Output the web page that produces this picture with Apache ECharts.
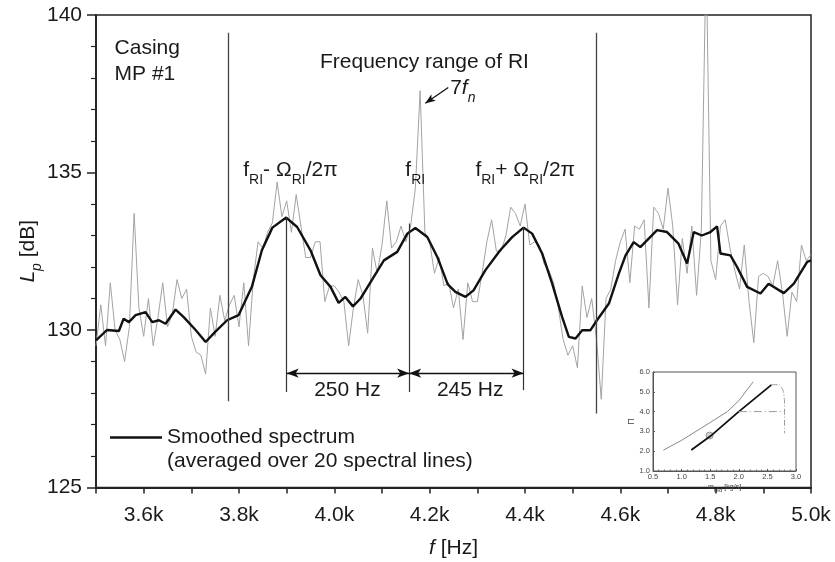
<!DOCTYPE html>
<html><head><meta charset="utf-8">
<script src="https://cdn.jsdelivr.net/npm/echarts@6/dist/echarts.min.js"></script>
<style>html,body{margin:0;padding:0;background:#fff}#c{width:835px;height:562px}</style>
</head><body><div id="c"></div>
<script>
// ---------- data ----------
const rawStart = 3500, rawStep = 10;   // frequency grid of the raw spectrum [Hz]
const rawLevels = [
  129.5,130.8,129.5,131.5,130.0,129.7,129.0,130.1,133.7,130.7,
  129.8,131.0,129.5,130.4,131.5,130.1,130.5,131.6,131.0,131.3,
  129.8,129.3,129.2,128.6,130.7,129.8,131.1,130.3,130.8,131.1,
  130.1,131.5,129.5,131.6,132.8,132.6,133.1,133.4,
  134.7,133.6,134.1,133.1,134.3,133.3,132.3,132.3,132.8,132.8,
  130.9,131.4,131.4,131.2,130.9,129.5,130.7,131.6,131.1,129.9,
  132.6,131.8,132.7,134.1,132.6,132.8,133.3,132.8,133.3,134.5,
  137.6,133.1,132.8,131.8,132.3,131.4,
  131.5,130.7,131.3,129.7,131.5,130.9,130.9,131.8,132.8,133.5,
  132.5,132.5,133.0,133.9,133.7,133.3,134.0,132.7,132.8,132.7,
  132.1,131.9,131.5,130.7,129.7,129.2,129.5,128.8,131.4,130.4,
  131.0,129.7,127.8,131.0,131.3,132.2,132.8,
  133.2,131.5,133.3,133.2,133.5,130.7,133.9,133.7,133.2,134.5,
  133.3,130.8,132.9,131.8,133.3,131.1,133.2,142.0,132.2,131.6,
  133.3,133.5,132.6,131.9,131.3,132.7,130.9,129.6,131.7,131.8,
  131.7,131.4,132.2,131.2,129.8,131.2,130.9,132.7,132.2,132.4
];
const smoothFreq = [3500,3523,3548,3558,3569,3583,3604,3618,3632,3646,3667,3684,3709,3730,3750,3775,3799,3827,3848,3870,
  3899,3922,3950,3971,3992,4009,4023,4039,4055,4076,4104,4132,4153,4170,4195,4216,4238,4254,4275,4292,
  4317,4348,4373,4397,4415,4436,4457,4478,4492,4506,4520,4537,4551,4576,4597,4611,4628,4642,4677,4698,
  4722,4740,4754,4771,4789,4803,4810,4831,4845,4866,4894,4911,4943,4964,4992,5000];
const smoothLevels = [129.67,130.0,129.97,130.36,130.25,130.47,130.57,130.25,130.31,130.2,130.65,130.41,130.0,129.62,129.94,130.31,130.47,131.37,132.53,133.25,
  133.57,133.27,132.53,131.74,131.37,130.86,131.05,130.75,131.0,131.52,132.21,132.48,133.06,133.24,132.95,132.32,131.45,131.21,131.05,131.26,
  131.9,132.53,132.95,133.25,133.06,132.43,131.47,130.41,129.78,129.73,129.99,129.99,130.31,130.84,131.8,132.37,132.79,132.63,133.17,133.11,
  132.74,132.11,133.11,133.0,133.11,133.29,132.43,132.37,132.0,131.37,131.16,131.47,131.17,131.47,132.16,132.21];
const xTickLabels = {3600:'3.6k',3800:'3.8k',4000:'4.0k',4200:'4.2k',4400:'4.4k',4600:'4.6k',4800:'4.8k',5000:'5.0k'};
const yTickLabels = {125:'125',130:'130',135:'135',140:'140'};

// RI range boundaries and peak markers  [f, Ltop, Lbottom]
const rangeLines = [[3777,139.44,127.74],[4549,139.44,127.35]];
const peakLines = [[3900,133.57,128.03],[4157,133.38,128.03],[4397,133.26,128.09]];
const spacingArrows = [[3900,4157,128.63],[4157,4397,128.63]];
const spacingLabels = ['250 Hz','245 Hz'];

// inset (compressor map)
const insetThin = [[0.68,2.05],[1.0,2.55],[1.5,3.45],[1.8,4.0],[2.0,4.55],[2.25,5.5]];
const insetThick = [[1.17,2.06],[1.5,2.75],[2.0,4.0],[2.57,5.35]];
const insetLimit = [[2.57,5.35],[2.68,5.36],[2.75,5.2],[2.79,4.8],[2.8,4.2],[2.8,2.9]];
const insetFlat = [[2.0,4.0],[2.8,4.0]];
const insetPoint = [[1.49,2.79]];

// ---------- chart ----------
const FONT = '"Liberation Sans", Arial, Helvetica, sans-serif';
const INK = '#1a1a1a';
const chart = echarts.init(document.getElementById('c'));

const rawData = rawLevels.map((v, i) => [rawStart + i * rawStep, v]);
const smoothData = smoothFreq.map((f, i) => [f, smoothLevels[i]]);

const markLines = [];
rangeLines.forEach(r => markLines.push([{coord:[r[0], r[1]], lineStyle:{color:'#444', width:1.3, type:'solid'}}, {coord:[r[0], r[2]]}]));
peakLines.forEach(r => markLines.push([{coord:[r[0], r[1]], lineStyle:{color:'#333', width:1.2, type:'solid'}}, {coord:[r[0], r[2]]}]));
spacingArrows.forEach(a => markLines.push([{coord:[a[0], a[2]], symbol:'arrow', symbolSize:[7,12], lineStyle:{color:'#111', width:1.3, type:'solid'}}, {coord:[a[1], a[2]], symbol:'arrow', symbolSize:[7,12]}]));
markLines.push([{coord:[4239,137.7], symbol:'none', lineStyle:{color:'#111', width:1.3, type:'solid'}}, {coord:[4191,137.2], symbol:'arrow', symbolSize:[6,10]}]);

const option = {
  animation: false,
  backgroundColor: '#fff',
  textStyle: {fontFamily: FONT},
  grid: [
    {left:96, top:15, width:715, height:472.5, show:true, borderColor:'#222', borderWidth:1.5, outerBoundsMode:'none'},
    {left:653, top:372, width:143, height:99, show:true, borderColor:'#555', borderWidth:1, backgroundColor:'#fff', outerBoundsMode:'none'}
  ],
  legend: {
    data:['Smoothed spectrum'], left:110, top:427, padding:0, itemWidth:52, itemHeight:2.4, icon:'rect',
    itemStyle:{color:'#111', borderWidth:0},
    textStyle:{fontSize:21, color:INK, fontFamily:FONT}, selectedMode:false
  },
  xAxis: [
    {type:'value', gridIndex:0, min:3500, max:5000, interval:100,
     axisLine:{lineStyle:{color:'#222', width:1.8}},
     axisTick:{length:6, lineStyle:{color:'#222', width:1.5}},
     axisLabel:{fontSize:21, color:INK, margin:17, fontFamily:FONT, formatter: v => xTickLabels[v] || ''},
     splitLine:{show:false},
     name:'{i|f}{m| [Hz]}', nameLocation:'middle', nameGap:50, nameMoveOverlap:false,
     nameTextStyle:{rich:{i:{fontSize:21, fontStyle:'italic', fontFamily:FONT, color:INK}, m:{fontSize:21, fontFamily:FONT, color:INK}}}
    },
    {type:'value', gridIndex:1, min:0.5, max:3.0, interval:0.5,
     axisLine:{lineStyle:{color:'#555', width:1}},
     axisTick:{inside:true, length:2, lineStyle:{color:'#555'}},
     minorTick:{show:true, splitNumber:5, length:1.5, lineStyle:{color:'#777'}},
     axisLabel:{fontSize:7.5, color:'#444', margin:2, formatter: v => v.toFixed(1)},
     splitLine:{show:false},
     name:'{m|m}{s|red}{m| [kg/s]}', nameLocation:'middle', nameGap:13, nameMoveOverlap:false,
     nameTextStyle:{rich:{m:{fontSize:7, color:'#444', verticalAlign:'top'}, s:{fontSize:6, color:'#444', verticalAlign:'top', padding:[3,0,0,0]}}}
    }
  ],
  yAxis: [
    {type:'value', gridIndex:0, min:125, max:140, interval:5,
     axisLine:{lineStyle:{color:'#222', width:1.8}},
     axisTick:{length:9, lineStyle:{color:'#222', width:1.5}},
     minorTick:{show:true, splitNumber:5, length:5, lineStyle:{color:'#222', width:1.2}},
     axisLabel:{fontSize:21, color:INK, margin:14, fontFamily:FONT, formatter: v => yTickLabels[v] || ''},
     splitLine:{show:false},
     name:'{i|L}{s|p}{m| [dB]}', nameLocation:'middle', nameGap:52, nameMoveOverlap:false,
     nameTextStyle:{rich:{
       i:{fontSize:21, fontStyle:'italic', fontFamily:FONT, color:INK, verticalAlign:'top'},
       s:{fontSize:14, fontStyle:'italic', fontFamily:FONT, color:INK, verticalAlign:'top', padding:[12,0,0,0]},
       m:{fontSize:21, fontFamily:FONT, color:INK, verticalAlign:'top'}}}
    },
    {type:'value', gridIndex:1, min:1, max:6, interval:1,
     axisLine:{lineStyle:{color:'#555', width:1}},
     axisTick:{inside:true, length:2, lineStyle:{color:'#555'}},
     axisLabel:{fontSize:7.5, color:'#444', margin:3, formatter: v => v.toFixed(1)},
     splitLine:{show:false},
     name:'Π', nameLocation:'middle', nameGap:17, nameMoveOverlap:false, nameTextStyle:{fontSize:9, color:'#444'}
    }
  ],
  series: [
    {name:'Raw spectrum', type:'line', xAxisIndex:0, yAxisIndex:0, data:rawData, symbol:'none', silent:true,
     lineStyle:{color:'#a3a3a3', width:1}, itemStyle:{color:'#a3a3a3'}, z:2,
     markLine:{silent:true, symbol:['none','none'], label:{show:false}, data:markLines, animation:false}},
    {name:'Smoothed spectrum', type:'line', xAxisIndex:0, yAxisIndex:0, data:smoothData, symbol:'none', silent:true,
     lineStyle:{color:'#111', width:2.4}, itemStyle:{color:'#111'}, z:3},
    {type:'line', xAxisIndex:1, yAxisIndex:1, data:insetThin, symbol:'none', silent:true, lineStyle:{color:'#888', width:1}},
    {type:'line', xAxisIndex:1, yAxisIndex:1, data:insetThick, symbol:'none', silent:true, lineStyle:{color:'#111', width:1.8}},
    {type:'line', xAxisIndex:1, yAxisIndex:1, data:insetLimit, symbol:'none', smooth:0.5, silent:true, lineStyle:{color:'#999', width:1, type:[6,2,1,2]}},
    {type:'line', xAxisIndex:1, yAxisIndex:1, data:insetFlat, symbol:'none', silent:true, lineStyle:{color:'#999', width:1, type:[8,3,1,3]}},
    {type:'scatter', xAxisIndex:1, yAxisIndex:1, data:insetPoint, symbolSize:7, silent:true, itemStyle:{color:'#c8c8c8', borderColor:'#888', borderWidth:1}}
  ]
};
chart.setOption(option);

// ---------- text annotations (anchored in data coordinates) ----------
const P = (f, L) => chart.convertToPixel({gridIndex:0}, [f, L]);
const mainTok = {fontSize:21, fontFamily:FONT, fill:INK, verticalAlign:'top'};
const subTok = {fontSize:14, fontFamily:FONT, fill:INK, verticalAlign:'top', padding:[13,0,0,0]};
const richStyle = {
  m: mainTok, s: subTok,
  i: Object.assign({}, mainTok, {fontStyle:'italic'}),
  is: Object.assign({}, subTok, {fontStyle:'italic'})
};
function richText(f, L, text, align) {
  const p = P(f, L);
  return {type:'text', x:p[0], y:p[1] - 10.5, silent:true, z:50,
    style:{text, rich:richStyle, fill:INK, align:align || 'left', verticalAlign:'top', textAlign:align || 'left', textVerticalAlign:'top'}};
}
function plainText(f, L, text, align, lh) {
  const p = P(f, L);
  return {type:'text', x:p[0], y:p[1], silent:true, z:50,
    style:{text, fontSize:21, fontFamily:FONT, fill:INK, lineHeight:lh || 24, align:align || 'left', verticalAlign:'middle', textAlign:align || 'left', textVerticalAlign:'middle'}};
}
const casing = P(3539, 138.94);
const graphics = [
  {type:'text', x:casing[0], y:casing[1] - 13, silent:true, z:50,
   style:{text:'Casing\nMP #1', fontSize:21, fontFamily:FONT, fill:INK, lineHeight:26, align:'left', verticalAlign:'top', textAlign:'left', textVerticalAlign:'top'}},
  plainText(4189, 138.5, 'Frequency range of RI', 'center'),
  richText(4243, 137.67, '{m|7}{i|f}{is|n}'),
  richText(3809, 135.07, '{m|f}{s|RI}{m|- Ω}{s|RI}{m|/2π}'),
  richText(4149, 135.07, '{m|f}{s|RI}'),
  richText(4296, 135.07, '{m|f}{s|RI}{m|+ Ω}{s|RI}{m|/2π}'),
  plainText((spacingArrows[0][0] + spacingArrows[0][1]) / 2 - 1, 128.09, spacingLabels[0], 'center'),
  plainText((spacingArrows[1][0] + spacingArrows[1][1]) / 2 + 8, 128.09, spacingLabels[1], 'center'),
  {type:'text', left:167, top:451, silent:true, z:50,
   style:{text:'(averaged over 20 spectral lines)', fontSize:21, fontFamily:FONT, fill:INK}}
];
chart.setOption({graphic: graphics});
</script></body></html>
